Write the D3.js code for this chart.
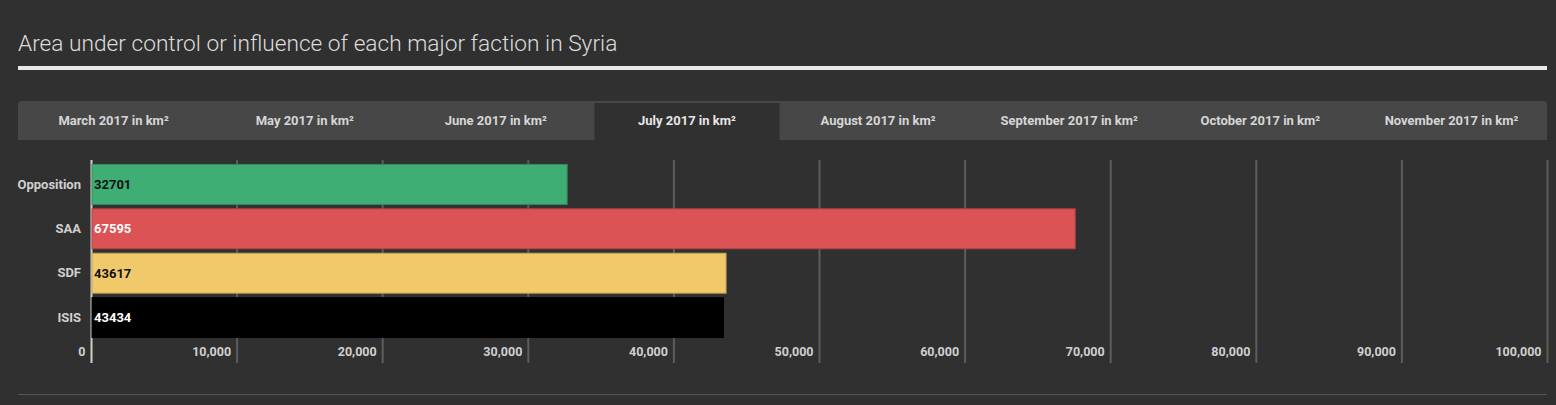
<!DOCTYPE html>
<html>
<head>
<meta charset="utf-8">
<script src="https://cdn.jsdelivr.net/npm/d3@7"></script>
<style>
  body { margin: 0; background: #303030; font-family: Roboto, "Noto Sans", sans-serif; }
  svg { display: block; }
</style>
</head>
<body>
<div id="chart"></div>
<script>
// data (July 2017)
const factions = ["Opposition", "SAA", "SDF", "ISIS"];
const areas = [32701, 67595, 43617, 43434];
const barColors = ["#3fae74", "#dc5356", "#efc96a", "#000000"];
const labelColors = ["#111111", "#ffffff", "#111111", "#ffffff"];
const tabs = ["March 2017 in km²", "May 2017 in km²", "June 2017 in km²", "July 2017 in km²",
  "August 2017 in km²", "September 2017 in km²", "October 2017 in km²", "November 2017 in km²"];
const activeTab = "July 2017 in km²";
const xTicks = [0, 10000, 20000, 30000, 40000, 50000, 60000, 70000, 80000, 90000, 100000];

const W = 1556, H = 405;
const left = 18, right = 1547;

const svg = d3.select("#chart").append("svg")
    .attr("width", W)
    .attr("height", H);

// title
svg.append("text")
    .attr("x", left)
    .attr("y", 51)
    .attr("fill", "#dcdcdc")
    .style("font-size", "22.7px")
    .style("font-weight", 300)
    .text("Area under control or influence of each major faction in Syria");

svg.append("rect")
    .attr("x", left).attr("y", 66)
    .attr("width", right - left).attr("height", 4)
    .attr("fill", "#e8e8e8");

// tab strip
let tabScale = d3.scaleBand().domain(tabs).range([left, right]);

svg.append("path")
    .attr("d", `M${left},140 V105 Q${left},101 ${left + 4},101 H${right - 4} Q${right},101 ${right},105 V140 Z`)
    .attr("fill", "#474747");

let tabG = svg.append("g").selectAll("g")
    .data(tabs)
    .enter().append("g");

tabG.filter(d => d === activeTab)
    .append("rect")
    .attr("x", d => tabScale(d) + 3)
    .attr("y", 103)
    .attr("width", tabScale.bandwidth() - 6)
    .attr("height", 37)
    .attr("fill", "#303030");

tabG.append("text")
    .attr("x", d => tabScale(d) + tabScale.bandwidth() / 2)
    .attr("y", 125)
    .attr("text-anchor", "middle")
    .attr("fill", d => d === activeTab ? "#e6e6e6" : "#d6d6d6")
    .style("font-size", "13px")
    .style("font-weight", 700)
    .text(d => d);

// bar chart
let xScale = d3.scaleLinear().domain([0, 100000]).range([91, 1547]);
let yScale = d3.scaleBand().domain(factions).range([160, 342]).paddingInner(0.1).paddingOuter(0.1);

let plot = svg.append("g");

// gridlines + tick labels via axis
let xAxis = plot.append("g")
    .attr("transform", "translate(0,363)")
    .call(d3.axisBottom(xScale).tickValues(xTicks).tickSize(-203).tickFormat(d3.format(",")));

xAxis.select(".domain").remove();
xAxis.selectAll(".tick line")
    .attr("stroke", "#5c5c5c")
    .attr("stroke-width", 2);
xAxis.selectAll(".tick text")
    .attr("fill", "#d0d0d0")
    .attr("text-anchor", "end")
    .attr("x", -6)
    .attr("y", -7)
    .attr("dy", 0)
    .style("font-size", "12.5px")
    .style("font-weight", 700)
    .style("font-family", "Roboto, sans-serif");
xAxis.selectAll(".tick").filter(d => d === 0).select("line")
    .attr("stroke", "#cfcfcf");

// bars
let rows = factions.map((f, i) => ({ name: f, value: areas[i], color: barColors[i], label: labelColors[i] }));

plot.selectAll(".bar")
    .data(rows)
    .enter().append("rect")
    .attr("class", "bar")
    .attr("x", xScale(0) + 1)
    .attr("y", d => yScale(d.name))
    .attr("width", d => xScale(d.value) - xScale(0) - 1)
    .attr("height", yScale.bandwidth())
    .attr("fill", d => d.color)
    .attr("stroke", d => d3.color(d.color).darker(0.6))
    .attr("stroke-width", 1);

plot.selectAll(".val")
    .data(rows)
    .enter().append("text")
    .attr("class", "val")
    .attr("x", xScale(0) + 3)
    .attr("y", d => yScale(d.name) + yScale.bandwidth() / 2)
    .attr("dy", "0.35em")
    .attr("fill", d => d.label)
    .style("font-size", "13px")
    .style("font-weight", 700)
    .text(d => d.value);

// category labels
let yAxis = plot.append("g")
    .attr("transform", "translate(81,0)")
    .call(d3.axisLeft(yScale).tickSize(0).tickPadding(0));
yAxis.select(".domain").remove();
yAxis.selectAll(".tick text")
    .attr("fill", "#d0d0d0")
    .style("font-size", "13px")
    .style("font-weight", 700)
    .style("font-family", "Roboto, sans-serif");

// bottom rule
svg.append("line")
    .attr("x1", left).attr("x2", right)
    .attr("y1", 394.5).attr("y2", 394.5)
    .attr("stroke", "#555")
    .attr("stroke-width", 1);
</script>
</body>
</html>
